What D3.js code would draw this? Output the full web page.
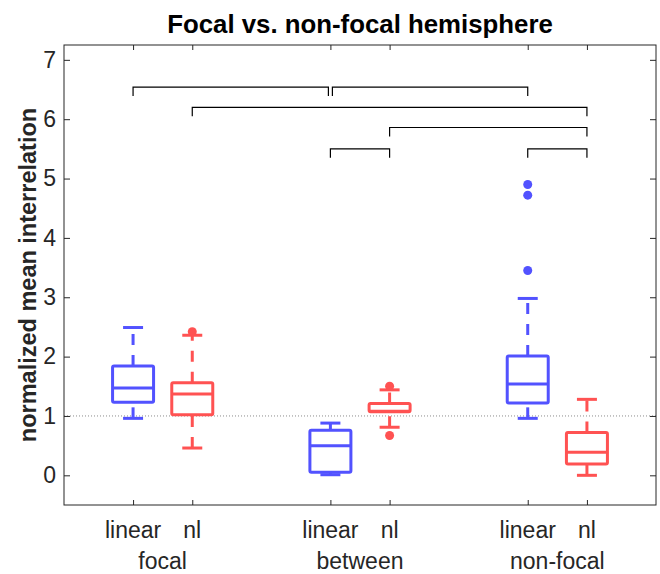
<!DOCTYPE html>
<html>
<head>
  <meta charset="utf-8">
  <title>Focal vs. non-focal hemisphere</title>
  <script src="https://cdn.jsdelivr.net/npm/d3@7"></script>
  <style>
    body{margin:0;background:#fff;}
    text{font-family:"Liberation Sans",Arial,Helvetica,sans-serif;fill:#262626;}
    .title{font-size:25.8px;font-weight:bold;fill:#000;text-anchor:middle;}
    .ylabel{font-size:23.5px;font-weight:bold;text-anchor:middle;}
  </style>
</head>
<body>
<script>
// groups and methods
var groups = ["focal", "between", "non-focal"];
var methods = ["linear", "nl"];
var yTicks = [0, 1, 2, 3, 4, 5, 6, 7];

// box stats, order: focal linear, focal nl, between linear, between nl, non-focal linear, non-focal nl
var whiskerHi = [2.49, 2.36, 0.88, 1.44, 2.98, 1.28];
var q3        = [1.84, 1.56, 0.76, 1.21, 2.01, 0.72];
var median    = [1.47, 1.37, 0.50, 1.08, 1.54, 0.39];
var q1        = [1.23, 1.02, 0.05, 1.07, 1.22, 0.19];
var whiskerLo = [0.96, 0.46, 0.01, 0.81, 0.96, 0.00];
var outliers  = [[], [2.42], [], [1.50, 0.67], [4.90, 4.72, 3.45], []];

// significance brackets: [from box, to box, height]
var brackets = [[0, 2, 6.54], [2, 4, 6.54], [1, 5, 6.20], [3, 5, 5.86], [2, 3, 5.50], [4, 5, 5.50]];

var width = 660, height = 574;
var margin = {left: 64, right: 4, top: 45, bottom: 69};
var colors = {linear: "#5252ff", nl: "#ff5252"};
var fs = 23;

var svg = d3.select("body").append("svg")
    .attr("width", width)
    .attr("height", height);

var x = d3.scaleLinear().domain([0.5, 3.5]).range([margin.left, width - margin.right]);
var y = d3.scaleLinear().domain([-0.5, 7.25]).range([height - margin.bottom, margin.top]);

// each box: group index, method
var boxes = [];
groups.forEach(function(g, gi){
  methods.forEach(function(m, mi){
    var k = boxes.length;
    boxes.push({group: g, method: m, pos: gi + 1 + (mi === 0 ? -0.15 : 0.15),
      lo: whiskerLo[k], q1: q1[k], med: median[k], q3: q3[k], hi: whiskerHi[k], out: outliers[k]});
  });
});

// dotted reference at 1
svg.append("line")
   .attr("x1", x(0.5)).attr("x2", x(3.5))
   .attr("y1", y(1)).attr("y2", y(1))
   .attr("stroke", "#8c8c8c").attr("stroke-width", 1)
   .attr("stroke-dasharray", "1,2");

// axes (ticks inside, box around)
var tickVals = boxes.map(function(b){ return b.pos; });
var xAxis = d3.axisBottom(x).tickValues(tickVals).tickSize(-5).tickFormat("");
var xTop = d3.axisTop(x).tickValues(tickVals).tickSize(-5).tickFormat("");
var yAxis = d3.axisLeft(y).tickValues(yTicks).tickSize(-6).tickPadding(8).tickFormat(d3.format("d"));
var yRight = d3.axisRight(y).tickValues(yTicks).tickSize(-6).tickFormat("");

function styleAxis(g){
  g.select(".domain").remove();
  g.selectAll(".tick line").attr("stroke", "#262626");
}
svg.append("g").attr("transform", "translate(0," + y(-0.5) + ")").call(xAxis).call(styleAxis);
svg.append("g").attr("transform", "translate(0," + y(7.25) + ")").call(xTop).call(styleAxis);
svg.append("g").attr("transform", "translate(" + x(0.5) + ",0)").call(yAxis).call(styleAxis)
   .selectAll("text").attr("font-size", fs).attr("fill", "#262626")
   .attr("font-family", "Liberation Sans, Arial, sans-serif");
svg.append("g").attr("transform", "translate(" + x(3.5) + ",0)").call(yRight).call(styleAxis);
svg.append("rect")
   .attr("x", x(0.5)).attr("y", y(7.25))
   .attr("width", x(3.5) - x(0.5)).attr("height", y(-0.5) - y(7.25))
   .attr("fill", "none").attr("stroke", "#262626").attr("stroke-width", 1);

// x labels
svg.selectAll(".mlabel").data(boxes).enter().append("text")
   .attr("x", function(d){ return x(d.pos); })
   .attr("y", 538)
   .attr("text-anchor", "middle")
   .style("font-size", fs + "px")
   .text(function(d){ return d.method; });
svg.selectAll(".glabel").data(groups).enter().append("text")
   .attr("x", function(d, i){ return x(i + 1); })
   .attr("y", 569)
   .attr("text-anchor", "middle")
   .style("font-size", fs + "px")
   .text(function(d){ return d; });

// boxplots
var bw = 41, cw = 20;
var bx = svg.append("g");
boxes.forEach(function(b){
  var cx = x(b.pos), c = colors[b.method];
  var g = bx.append("g").attr("stroke", c).attr("stroke-width", 3).attr("fill", "none");
  // whiskers drawn bottom to top, dashed
  g.append("line").attr("x1", cx).attr("x2", cx).attr("y1", y(b.lo)).attr("y2", y(b.q1))
   .attr("stroke-dasharray", "11,10");
  g.append("line").attr("x1", cx).attr("x2", cx).attr("y1", y(b.q3)).attr("y2", y(b.hi))
   .attr("stroke-dasharray", "11,10");
  g.append("line").attr("x1", cx - cw/2).attr("x2", cx + cw/2).attr("y1", y(b.lo)).attr("y2", y(b.lo));
  g.append("line").attr("x1", cx - cw/2).attr("x2", cx + cw/2).attr("y1", y(b.hi)).attr("y2", y(b.hi));
  g.append("rect").attr("x", cx - bw/2).attr("y", y(b.q3))
   .attr("width", bw).attr("height", y(b.q1) - y(b.q3)).attr("rx", 1.5);
  g.append("line").attr("x1", cx - bw/2).attr("x2", cx + bw/2).attr("y1", y(b.med)).attr("y2", y(b.med));
  g.selectAll("circle").data(b.out).enter().append("circle")
   .attr("cx", cx).attr("cy", function(v){ return y(v); })
   .attr("r", 4.5).attr("fill", c).attr("stroke", "none");
});

// significance brackets
var drop = 0.15;
var bg = svg.append("g").attr("stroke", "#000").attr("stroke-width", 1.2).attr("fill", "none");
brackets.forEach(function(br, i){
  var a = x(boxes[br[0]].pos), b = x(boxes[br[1]].pos);
  // nudge apart brackets that meet at the same height
  brackets.forEach(function(o, j){
    if (j === i || o[2] !== br[2]) return;
    if (o[1] === br[0]) a += 2;
    if (o[0] === br[1]) b -= 2;
  });
  bg.append("path")
    .attr("d", "M" + a + "," + y(br[2] - drop) + "V" + y(br[2]) + "H" + b + "V" + y(br[2] - drop));
});

// title and y label
svg.append("text").attr("class", "title")
   .attr("x", (x(0.5) + x(3.5)) / 2).attr("y", 33)
   .text("Focal vs. non-focal hemisphere");
svg.append("text").attr("class", "ylabel")
   .attr("transform", "translate(36," + (y(-0.5) + y(7.25)) / 2 + ") rotate(-90)")
   .text("normalized mean interrelation");
</script>
</body>
</html>
